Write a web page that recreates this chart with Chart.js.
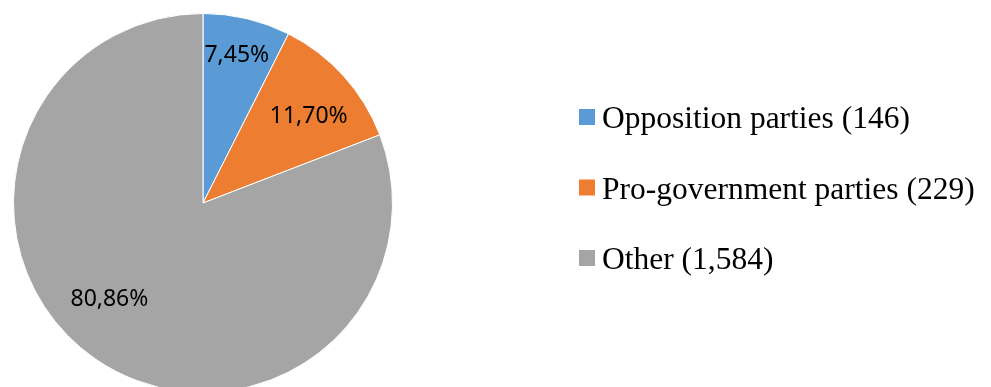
<!DOCTYPE html>
<html>
<head>
<meta charset="utf-8">
<script src="https://cdn.jsdelivr.net/npm/chart.js@4/dist/chart.umd.min.js"></script>
<style>
  html, body { margin: 0; padding: 0; background: #fff; overflow: hidden; }
  #wrap { position: relative; width: 991px; height: 387px; overflow: hidden; }
</style>
</head>
<body>
<div id="wrap"><canvas id="pieChart" width="991" height="406"></canvas></div>
<script>
// data
const categories = ["Opposition parties (146)", "Pro-government parties (229)", "Other (1,584)"];
const counts = [146, 229, 1584];
const percentLabels = ["7,45%", "11,70%", "80,86%"];
const colors = ["#5B9BD5", "#ED7D31", "#A5A5A5"];

// where each label sits inside its slice: fraction along the arc, fraction of radius
const labelSpots = [[0.48, 0.80], [0.57, 0.72], [0.533, 0.71]];

const pieDecor = {
  id: "pieDecor",
  afterDatasetsDraw(chart) {
    const ctx = chart.ctx;
    const arcs = chart.getDatasetMeta(0).data;
    ctx.save();
    ctx.fillStyle = "#000";
    ctx.font = "23px 'Noto Sans'";
    ctx.textAlign = "center";
    ctx.textBaseline = "middle";
    arcs.forEach((arc, i) => {
      const a = arc.startAngle + (arc.endAngle - arc.startAngle) * labelSpots[i][0];
      const r = arc.outerRadius * labelSpots[i][1];
      ctx.fillText(percentLabels[i], arc.x + Math.cos(a) * r, arc.y + Math.sin(a) * r);
    });

    // legend on the right
    ctx.font = "31.5px 'Liberation Serif'";
    ctx.textAlign = "left";
    ctx.textBaseline = "alphabetic";
    chart.data.labels.forEach((lab, i) => {
      const base = 128 + i * 70.5;
      ctx.fillStyle = colors[i];
      ctx.fillRect(579, base - 19, 16, 16);
      ctx.fillStyle = "#000";
      ctx.fillText(lab, 602, base);
    });
    ctx.restore();
  }
};

new Chart(document.getElementById("pieChart"), {
  type: "pie",
  data: {
    labels: categories,
    datasets: [{
      data: counts,
      backgroundColor: colors,
      borderColor: "#ffffff",
      borderWidth: 1
    }]
  },
  options: {
    responsive: false,
    animation: false,
    layout: { padding: { left: 13, top: 13, right: 598, bottom: 13 } },
    plugins: {
      legend: { display: false },
      tooltip: { enabled: false }
    }
  },
  plugins: [pieDecor]
});
</script>
</body>
</html>
